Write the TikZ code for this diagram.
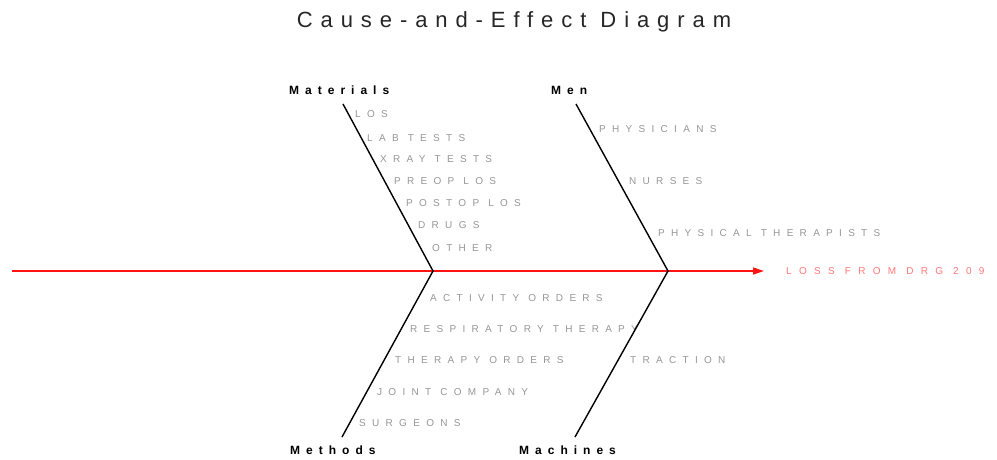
\documentclass[tikz,border=0pt]{standalone}
\usepackage{fontspec}
\setmainfont{Liberation Sans}
\usetikzlibrary{arrows.meta}
\definecolor{itemgray}{RGB}{150,150,150}
\definecolor{spinered}{RGB}{255,20,20}
\definecolor{effectpink}{RGB}{255,120,120}
\tikzset{
  bone/.style={draw=black, line width=1.4pt},
  spine/.style={draw=spinered, line width=1.6pt, -{Triangle[length=11pt,width=7pt]}},
  cat/.style={font=\fontsize{12}{14}\selectfont\bfseries\addfontfeatures{LetterSpace=50}, inner sep=0pt, anchor=west},
  item/.style={font=\fontsize{10}{12}\selectfont\addfontfeatures{LetterSpace=63}, text=itemgray, inner sep=0pt, anchor=west},
  effect/.style={font=\fontsize{10}{12}\selectfont\addfontfeatures{LetterSpace=73}, text=effectpink, inner sep=0pt, anchor=west},
  title/.style={font=\fontsize{22}{26}\selectfont\addfontfeatures{LetterSpace=36}, text=black!85, inner sep=0pt}
}
\begin{document}
\begin{tikzpicture}[x=1pt,y=-1pt]
\useasboundingbox (0,0) rectangle (997,459);
\node[title] (ttl) at (514,22) {Cause-and-Effect Diagram};
% bone coordinates
\coordinate (matTop) at (343,104);
\coordinate (j1) at (433,271);
\coordinate (methBot) at (342,437);
\coordinate (menTop) at (576,104);
\coordinate (j2) at (668,271);
\coordinate (machBot) at (575,437);
\coordinate (tail) at (12,271);
\coordinate (head) at (764,271);
% spine
\draw[spine] (tail) -- (head);
% items
\node[item] (los) at (355,114) {LOS};
\node[item] (lab) at (367,138) {LAB TESTS};
\node[item] (xray) at (380,159) {XRAY TESTS};
\node[item] (preop) at (394,181) {PREOP LOS};
\node[item] (postop) at (406,203) {POSTOP LOS};
\node[item] (drugs) at (418,225) {DRUGS};
\node[item] (other) at (432,248) {OTHER};
\node[item] (phys) at (599,129) {PHYSICIANS};
\node[item] (nurses) at (629,181) {NURSES};
\node[item] (pt) at (658,233) {PHYSICAL THERAPISTS};
\node[item] (act) at (430,298) {ACTIVITY ORDERS};
\node[item] (resp) at (410,329) {RESPIRATORY THERAPY};
\node[item] (thord) at (395,360) {THERAPY ORDERS};
\node[item] (joint) at (377,392) {JOINT COMPANY};
\node[item] (surg) at (359,423) {SURGEONS};
\node[item] (trac) at (630,360) {TRACTION};
\node[effect] (eff) at (786,271) {LOSS FROM DRG 209};
% bones
\draw[bone] (matTop) -- (j1) -- (methBot);
\draw[bone] (menTop) -- (j2) -- (machBot);
% categories
\node[cat] (mat) at (289,90) {Materials};
\node[cat] (men) at (551,90) {Men};
\node[cat] (meth) at (290,450) {Methods};
\node[cat] (mach) at (519,450) {Machines};
\end{tikzpicture}
\end{document}
